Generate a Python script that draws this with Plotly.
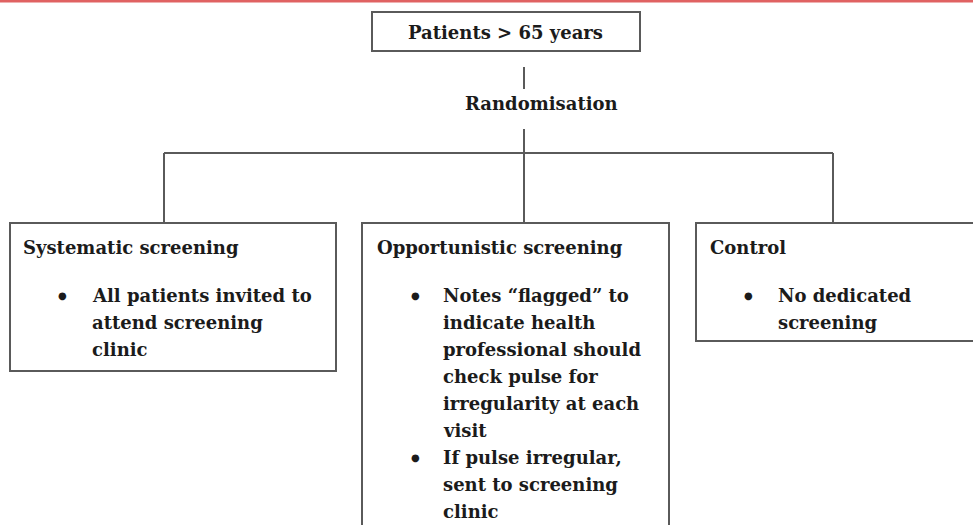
import plotly.graph_objects as go

# ---- content ----
root_label = "Patients > 65 years"
split_label = "Randomisation"
arm_titles = ["Systematic screening", "Opportunistic screening", "Control"]
arm_bullets = [
    [["All patients invited to", "attend screening", "clinic"]],
    [["Notes \u201cflagged\u201d to", "indicate health", "professional should",
      "check pulse for", "irregularity at each", "visit"],
     ["If pulse irregular,", "sent to screening", "clinic"]],
    [["No dedicated", "screening"]],
]

# ---- geometry (pixel canvas) ----
W, H = 973, 525
root_box = (372, 12, 640, 51)
arm_boxes = [(10, 223, 336, 371), (362, 223, 669, 540), (696, 223, 990, 341)]
branch_x = [164, 524, 833]
bar_y = 153
title_y = 247
first_line_y = 295
line_step = 27.1
bullet_dx = [52, 53, 52]
text_dx = [80, 79, 80]
title_dx = [11, 13, 12]

FONT = "DejaVu Serif"
INK = "#1b1b1b"
EDGE = "#5a5a5a"
FS = 18

fig = go.Figure()
shapes = []
ann = []

# red top rule
shapes.append(dict(type="rect", x0=0, x1=W, y0=0, y1=2.5, line=dict(width=0), fillcolor="#e06262"))

def box(b):
    x0, y0, x1, y1 = b
    shapes.append(dict(type="rect", x0=x0, y0=y0, x1=x1, y1=y1,
                       line=dict(color=EDGE, width=2), fillcolor="rgba(0,0,0,0)"))

def seg(x0, y0, x1, y1):
    shapes.append(dict(type="line", x0=x0, y0=y0, x1=x1, y1=y1,
                       line=dict(color=EDGE, width=2)))

box(root_box)
ann.append(dict(x=(root_box[0] + root_box[2]) / 2 - 1, y=32, text="<b>%s</b>" % root_label,
                xanchor="center", yanchor="middle", showarrow=False,
                font=dict(family=FONT, size=FS, color=INK)))
seg(524, 67, 524, 89)
ann.append(dict(x=541, y=103, text="<b>%s</b>" % split_label,
                xanchor="center", yanchor="middle", showarrow=False,
                font=dict(family=FONT, size=FS, color=INK)))
seg(524, 129, 524, arm_boxes[1][1])
seg(branch_x[0], bar_y, branch_x[2], bar_y)
seg(branch_x[0], bar_y, branch_x[0], arm_boxes[0][1])
seg(branch_x[2], bar_y, branch_x[2], arm_boxes[2][1])

for i, b in enumerate(arm_boxes):
    box(b)
    ann.append(dict(x=b[0] + title_dx[i], y=title_y, text="<b>%s</b>" % arm_titles[i],
                    xanchor="left", yanchor="middle", showarrow=False,
                    font=dict(family=FONT, size=FS, color=INK)))
    k = 0
    for bullet in arm_bullets[i]:
        for j, line in enumerate(bullet):
            y = first_line_y + k * line_step
            if j == 0:
                ann.append(dict(x=b[0] + bullet_dx[i], y=y, text="\u25CF",
                                xanchor="center", yanchor="middle", showarrow=False,
                                font=dict(family=FONT, size=10, color=INK)))
            ann.append(dict(x=b[0] + text_dx[i], y=y, text="<b>%s</b>" % line,
                            xanchor="left", yanchor="middle", showarrow=False,
                            font=dict(family=FONT, size=FS, color=INK)))
            k += 1

fig.update_layout(
    width=W, height=H, margin=dict(l=0, r=0, t=0, b=0),
    paper_bgcolor="white", plot_bgcolor="white",
    xaxis=dict(range=[0, W], visible=False, fixedrange=True),
    yaxis=dict(range=[H, 0], visible=False, fixedrange=True),
    shapes=shapes, annotations=ann, showlegend=False,
)
fig.write_html("out.html", config={"displayModeBar": False},
               post_script="document.body.style.margin='0';document.body.style.overflow='hidden';")
